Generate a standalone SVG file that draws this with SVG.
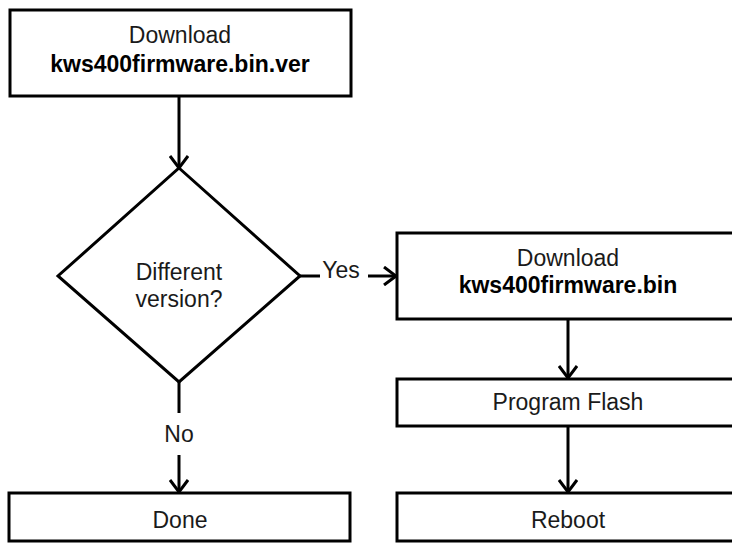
<svg xmlns="http://www.w3.org/2000/svg" width="732" height="543" viewBox="0 0 732 543">
<defs>
<style>
.box{fill:#fff;stroke:#000;stroke-width:3}
.t{font-family:"Liberation Sans",Arial,sans-serif;font-size:23px;fill:#1a1a1a;text-anchor:middle}
.b{font-weight:bold;fill:#000}
.c{fill:none;stroke:#000;stroke-width:3}
</style>
<marker id="ah" viewBox="0 0 14 20" refX="13" refY="10" markerWidth="14" markerHeight="20" markerUnits="userSpaceOnUse" orient="auto">
<path d="M1,1 L13,10 L1,19" fill="none" stroke="#000" stroke-width="3"/>
</marker>
</defs>
<rect width="732" height="543" fill="#fff"/>
<g id="connectors">
<line class="c" x1="179" y1="97" x2="179" y2="168" marker-end="url(#ah)"/>
<line class="c" x1="300" y1="276" x2="320" y2="276"/>
<line class="c" x1="368" y1="276" x2="396" y2="276" marker-end="url(#ah)"/>
<line class="c" x1="179" y1="382" x2="179" y2="413"/>
<line class="c" x1="179" y1="455" x2="179" y2="492" marker-end="url(#ah)"/>
<line class="c" x1="568" y1="319" x2="568" y2="378" marker-end="url(#ah)"/>
<line class="c" x1="568" y1="426" x2="568" y2="492" marker-end="url(#ah)"/>
<text class="t" x="341" y="278">Yes</text>
<text class="t" x="179" y="442">No</text>
</g>
<g id="download-ver">
<rect class="box" x="10" y="10" width="341" height="86"/>
<text class="t" x="180" y="43">Download</text>
<text class="t b" x="180" y="72">kws400firmware.bin.ver</text>
</g>
<g id="decision">
<polygon class="box" points="179,168 300,276 179,382 58,276"/>
<text class="t" x="179" y="280">Different</text>
<text class="t" x="179" y="307">version?</text>
</g>
<g id="download-bin">
<rect class="box" x="397" y="233" width="342" height="86"/>
<text class="t" x="568" y="266">Download</text>
<text class="t b" x="568" y="293">kws400firmware.bin</text>
</g>
<g id="program-flash">
<rect class="box" x="397" y="379" width="342" height="47"/>
<text class="t" x="568" y="410">Program Flash</text>
</g>
<g id="done">
<rect class="box" x="9" y="493" width="341" height="48"/>
<text class="t" x="180" y="528">Done</text>
</g>
<g id="reboot">
<rect class="box" x="397" y="493" width="342" height="48"/>
<text class="t" x="568" y="528">Reboot</text>
</g>
</svg>
